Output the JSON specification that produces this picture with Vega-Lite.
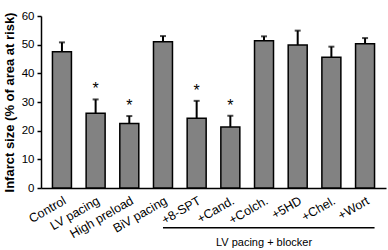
{
  "$schema": "https://vega.github.io/schema/vega-lite/v6.json",
  "autosize": "none",
  "width": 345,
  "height": 172,
  "padding": {"left": 41, "top": 16, "right": 2, "bottom": 62},
  "background": "white",
  "config": {
    "view": {"stroke": null},
    "font": "Liberation Sans",
    "axis": {"labelFont": "Liberation Sans", "titleFont": "Liberation Sans", "labelColor": "black", "titleColor": "black", "domainColor": "black", "tickColor": "black"}
  },
  "datasets": {
    "bars": [
      {"group": "Control", "value": 47.5, "err": 50.8, "sig": ""},
      {"group": "LV pacing", "value": 26.1, "err": 30.9, "sig": "*"},
      {"group": "High preload", "value": 22.5, "err": 25.1, "sig": "*"},
      {"group": "BiV pacing", "value": 51.0, "err": 53.0, "sig": ""},
      {"group": "+8-SPT", "value": 24.3, "err": 30.4, "sig": "*"},
      {"group": "+Cand.", "value": 21.3, "err": 25.2, "sig": "*"},
      {"group": "+Colch.", "value": 51.4, "err": 52.9, "sig": ""},
      {"group": "+5HD", "value": 49.9, "err": 54.9, "sig": ""},
      {"group": "+Chel.", "value": 45.6, "err": 49.3, "sig": ""},
      {"group": "+Wort", "value": 50.3, "err": 52.3, "sig": ""}
    ],
    "bracket": [
      {"start": "BiV pacing", "end": "+Wort", "mid": "+Colch.", "label": "LV pacing + blocker"}
    ]
  },
  "encoding": {
    "x": {"field": "group", "type": "nominal",
      "scale": {"domain": ["Control", "LV pacing", "High preload", "BiV pacing", "+8-SPT", "+Cand.", "+Colch.", "+5HD", "+Chel.", "+Wort"], "paddingInner": 0.436, "paddingOuter": 0.34},
      "axis": {"title": null, "labelAngle": -30, "ticks": false, "labelFontSize": 12.5, "labelPadding": 6, "domainWidth": 1.5}}
  },
  "layer": [
    {
      "data": {"name": "bars"},
      "mark": {"type": "bar", "fill": "#828282", "stroke": "black", "strokeWidth": 1.5},
      "encoding": {
        "y": {"field": "value", "type": "quantitative",
          "scale": {"domain": [0, 60], "nice": false, "zero": true},
          "axis": {"title": "Infarct size (% of area at risk)", "tickCount": 6, "labelOverlap": false, "grid": false, "titleFontSize": 13, "titleFontWeight": "bold", "titlePadding": 5, "tickSize": 4, "labelFontSize": 11.5, "labelPadding": 3, "domainWidth": 1.5, "tickWidth": 1.5}}
      }
    },
    {
      "data": {"name": "bars"},
      "mark": {"type": "rule", "strokeWidth": 2, "color": "black"},
      "encoding": {
        "y": {"field": "value", "type": "quantitative"},
        "y2": {"field": "err"}
      }
    },
    {
      "data": {"name": "bars"},
      "mark": {"type": "tick", "thickness": 2, "size": 6, "color": "black"},
      "encoding": {
        "y": {"field": "err", "type": "quantitative"}
      }
    },
    {
      "data": {"name": "bars"},
      "mark": {"type": "text", "fontSize": 16, "dy": -2, "baseline": "bottom", "color": "black"},
      "encoding": {
        "y": {"field": "err", "type": "quantitative"},
        "text": {"field": "sig"}
      }
    },
    {
      "data": {"name": "bracket"},
      "mark": {"type": "rule", "strokeWidth": 1.5, "color": "black"},
      "encoding": {
        "x": {"field": "start", "type": "nominal", "bandPosition": 0.5},
        "x2": {"field": "end", "bandPosition": 1},
        "y": {"datum": -13.9, "type": "quantitative"}
      }
    },
    {
      "data": {"name": "bracket"},
      "mark": {"type": "text", "fontSize": 11, "baseline": "middle", "color": "black"},
      "encoding": {
        "x": {"field": "mid", "type": "nominal"},
        "y": {"datum": -19.3, "type": "quantitative"},
        "text": {"field": "label"}
      }
    }
  ]
}
